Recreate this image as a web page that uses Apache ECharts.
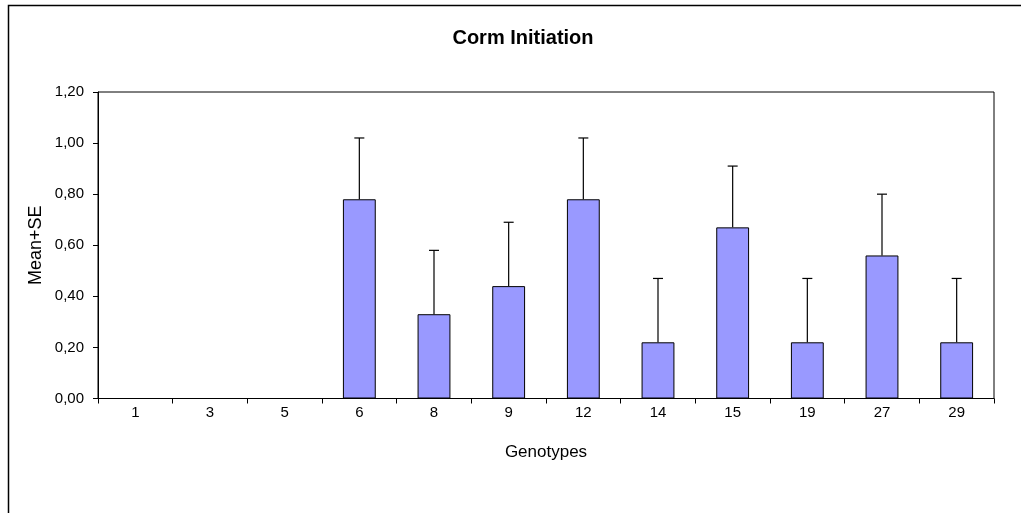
<!DOCTYPE html>
<html>
<head>
<meta charset="utf-8">
<script src="https://cdn.jsdelivr.net/npm/echarts@6/dist/echarts.min.js"></script>
<style>
  html, body { margin: 0; padding: 0; background: #fff; }
  #chart { width: 1021px; height: 513px; }
</style>
</head>
<body>
<div id="chart"></div>
<script>
// data
const genotypes = ['1', '3', '5', '6', '8', '9', '12', '14', '15', '19', '27', '29'];
const means = [0, 0, 0, 0.78, 0.33, 0.44, 0.78, 0.22, 0.67, 0.22, 0.56, 0.22];
const upper = [0, 0, 0, 1.02, 0.58, 0.69, 1.02, 0.47, 0.91, 0.47, 0.80, 0.47]; // mean + SE
const yTicks = [0, 0.2, 0.4, 0.6, 0.8, 1.0, 1.2];

const font = 'Liberation Sans, Arial, sans-serif';

let myChart = echarts.init(document.getElementById('chart'));

// error bar data: [index, mean, mean+SE], skip the empty ones
let errData = [];
genotypes.forEach((g, i) => {
  if (upper[i] > means[i]) errData.push([i, means[i], upper[i]]);
});

let option = {
  animation: false,
  backgroundColor: '#fff',
  title: {
    text: 'Corm Initiation',
    left: 518,
    top: 23,
    textAlign: 'center',
    textStyle: { fontFamily: font, fontSize: 20, fontWeight: 'bold', color: '#000' },
  },
  graphic: [
    {
      // outer chart frame (cut off on the right and bottom)
      type: 'rect',
      shape: { x: 8.5, y: 5.5, width: 1200, height: 700 },
      style: { fill: 'none', stroke: '#000', lineWidth: 1.5 },
      silent: true,
    },
  ],
  grid: {
    left: 98,
    right: 27,
    top: 92,
    bottom: 114.5,
    show: true,
    borderColor: '#000',
    borderWidth: 1,
    backgroundColor: '#fff',
  },
  xAxis: {
    type: 'category',
    data: genotypes,
    name: 'Genotypes',
    nameLocation: 'middle',
    nameGap: 45,
    nameTextStyle: { fontFamily: font, fontSize: 17, color: '#000' },
    axisLine: { show: true, lineStyle: { color: '#000', width: 1 } },
    axisTick: { show: true, length: 5, alignWithLabel: false, lineStyle: { color: '#000' } },
    axisLabel: { fontFamily: font, fontSize: 15, color: '#000', margin: 7 },
  },
  yAxis: {
    type: 'value',
    min: 0,
    max: 1.2,
    interval: 0.2,
    name: 'Mean+SE',
    nameLocation: 'middle',
    nameGap: 53,
    nameMoveOverlap: false,
    nameTextStyle: { fontFamily: font, fontSize: 18, color: '#000' },
    axisLine: { show: true, lineStyle: { color: '#000', width: 1 } },
    axisTick: { show: true, length: 5, lineStyle: { color: '#000' } },
    splitLine: { show: false },
    axisLabel: {
      fontFamily: font,
      fontSize: 15,
      color: '#000',
      margin: 14,
      formatter: (v) => {
        let t = yTicks.find((x) => Math.abs(x - v) < 1e-6);
        return (t !== undefined ? t : v).toFixed(2).replace('.', ',');
      },
    },
  },
  series: [
    {
      type: 'bar',
      data: means,
      barCategoryGap: '56%',
      itemStyle: { color: '#9999FF', borderColor: '#000', borderWidth: 1 },
    },
    {
      type: 'custom',
      data: errData,
      z: 5,
      renderItem: (params, api) => {
        let i = api.value(0);
        let lo = api.coord([i, api.value(1)]);
        let hi = api.coord([i, api.value(2)]);
        let half = 5;
        return {
          type: 'group',
          children: [
            {
              type: 'line',
              shape: { x1: lo[0], y1: lo[1], x2: hi[0], y2: hi[1] },
              style: { stroke: '#000', lineWidth: 1.2 },
            },
            {
              type: 'line',
              shape: { x1: hi[0] - half, y1: hi[1], x2: hi[0] + half, y2: hi[1] },
              style: { stroke: '#000', lineWidth: 1.2 },
            },
          ],
        };
      },
    },
  ],
};

myChart.setOption(option, true);
window.addEventListener('resize', () => {
  myChart.resize();
});
</script>
</body>
</html>
